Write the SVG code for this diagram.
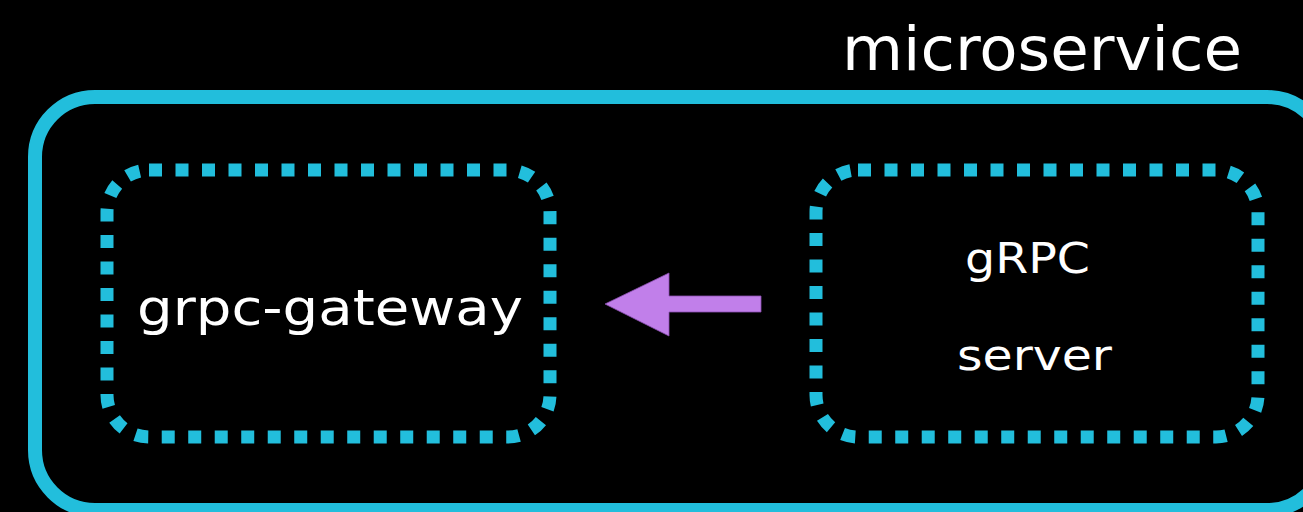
<svg xmlns="http://www.w3.org/2000/svg" width="1303" height="512" viewBox="0 0 1303 512">
<style>
.bg{fill:#000}
.outer{fill:none;stroke:#22bedc;stroke-width:14}
.dot{fill:none;stroke:#22bedc;stroke-width:13;stroke-dasharray:13 13.5}
.t{fill:#fff;font-family:"DejaVu Sans",sans-serif;text-anchor:start}
.arrow{fill:#c17fea;stroke:#8a4fb0;stroke-width:0.8}
</style>
<rect class="bg" x="0" y="0" width="1303" height="512"/>
<g id="microservice">
<rect class="outer" x="35" y="97" width="1292" height="413" rx="60" ry="60"/>
<text class="t" x="842" y="70" font-size="60" textLength="400" lengthAdjust="spacingAndGlyphs">microservice</text>
</g>
<g id="grpc-gateway">
<rect class="dot" x="107" y="170" width="443" height="267" rx="42" ry="42"/>
<text class="t" x="137" y="325" font-size="49" textLength="386" lengthAdjust="spacingAndGlyphs">grpc-gateway</text>
</g>
<g id="grpc-server">
<rect class="dot" x="816" y="170" width="442" height="267" rx="42" ry="42"/>
<text class="t" x="965" y="273" font-size="42" textLength="125" lengthAdjust="spacingAndGlyphs">gRPC</text>
<text class="t" x="957" y="370" font-size="42" textLength="155" lengthAdjust="spacingAndGlyphs">server</text>
</g>
<g id="connectors">
<polygon class="arrow" points="605,304 669,273 669,296 761,296 761,312 669,312 669,336"/>
</g>
</svg>
